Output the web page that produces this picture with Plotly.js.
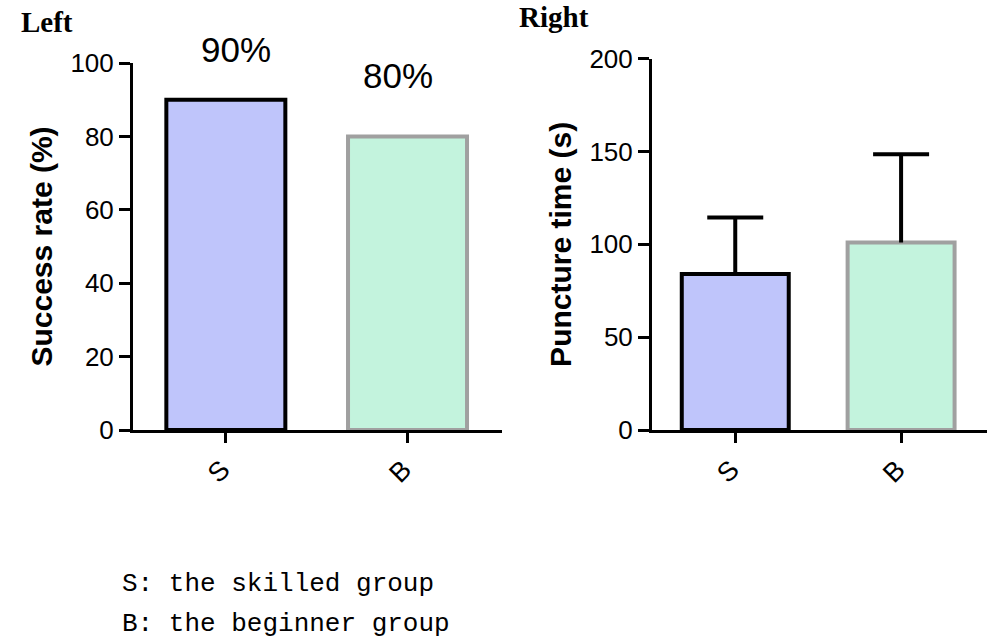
<!DOCTYPE html>
<html>
<head>
<meta charset="utf-8">
<script src="https://cdn.plot.ly/plotly-3.0.1.min.js"></script>
<style>html,body{margin:0;padding:0;background:#fff;}#chart{width:1000px;height:643px;}</style>
</head>
<body>
<div id="chart"></div>
<script>
// Data
var groups = ["S", "B"];
var successRate = [90, 80];
var successLabels = ["90%", "80%"];
var punctureMean = [84, 101];
var punctureSD = [30.5, 47.5];
var noSD = [0, 0];
var fillColors = ["#BFC5FB", "#C3F3DD"];
var edgeColors = ["#000000", "#A0A0A0"];
var legendLines = ["S: the skilled group", "B: the beginner group"];

var tickFont = {family: "Liberation Sans, Arial, sans-serif", size: 26, color: "#000"};
var xTickFont = {family: "Liberation Sans, Arial, sans-serif", size: 27, color: "#000"};
var titleFont = {family: "Liberation Sans, Arial, sans-serif", size: 30, color: "#000", weight: "bold"};

var errTop = punctureMean.map(function (m, i) { return m + punctureSD[i]; });

var traces = [
  {
    type: "bar", x: groups, y: successRate, xaxis: "x", yaxis: "y",
    width: 0.655,
    marker: {color: fillColors, line: {color: edgeColors, width: 4}},
    hoverinfo: "none"
  },
  {
    type: "bar", x: groups, y: punctureMean, xaxis: "x2", yaxis: "y2",
    width: 0.645,
    marker: {color: fillColors, line: {color: edgeColors, width: 4}},
    error_y: {type: "data", symmetric: false, array: punctureSD, arrayminus: noSD,
              color: "#000", thickness: 4, width: 0},
    hoverinfo: "none"
  },
  {
    // caps of the error bars (top only)
    type: "scatter", mode: "markers", x: groups, y: errTop, xaxis: "x2", yaxis: "y2",
    marker: {opacity: 0, size: 1},
    error_y: {type: "data", symmetric: true, array: noSD, color: "#000", thickness: 4, width: 28},
    hoverinfo: "none"
  }
];

var H = 643, W = 1000;
function py(p) { return (H - p) / H; }

var labelShift = [29, 39];
var labelXShift = [10, -10];
var annotations = [];
successLabels.forEach(function (t, i) {
  annotations.push({
    xref: "x", yref: "y", x: groups[i], y: successRate[i], text: t,
    showarrow: false, yanchor: "bottom", yshift: labelShift[i], xshift: labelXShift[i],
    font: {family: "Liberation Sans, Arial, sans-serif", size: 35, color: "#000"}
  });
});
annotations.push({xref: "paper", yref: "paper", x: 19 / W, y: py(4), xanchor: "left", yanchor: "top",
  text: "<b>Left</b>", showarrow: false,
  font: {family: "Liberation Serif, Times New Roman, serif", size: 29, color: "#000"}});
annotations.push({xref: "paper", yref: "paper", x: 517 / W, y: py(-1), xanchor: "left", yanchor: "top",
  text: "<b>Right</b>", showarrow: false,
  font: {family: "Liberation Serif, Times New Roman, serif", size: 29, color: "#000"}});
legendLines.forEach(function (t, i) {
  annotations.push({xref: "paper", yref: "paper", x: 120 / W, y: py(584 + i * 40), xanchor: "left", yanchor: "middle",
    text: t, showarrow: false,
    font: {family: "Liberation Mono, Courier New, monospace", size: 26, color: "#000"}});
});

function xAxis(domain, range, anchor) {
  return {
    domain: domain, range: range, type: "category", anchor: anchor,
    showline: true, linecolor: "#000", linewidth: 3,
    ticks: "outside", ticklen: 10, tickwidth: 3, tickcolor: "#000",
    tickangle: -45, tickfont: xTickFont, ticklabelshift: -4,
    showgrid: false, zeroline: false, fixedrange: true
  };
}
function yAxis(domain, range, anchor, vals, title) {
  return {
    domain: domain, range: range, anchor: anchor, tickvals: vals,
    showline: true, linecolor: "#000", linewidth: 3,
    ticks: "outside", ticklen: 11, tickwidth: 3, tickcolor: "#000",
    tickfont: tickFont, showgrid: false, zeroline: false,
    title: {text: title, font: titleFont, standoff: 9},
    fixedrange: true
  };
}

var layout = {
  width: W, height: H,
  margin: {l: 0, r: 0, t: 0, b: 0},
  paper_bgcolor: "#fff", plot_bgcolor: "#fff",
  showlegend: false,
  xaxis: xAxis([133 / W, 502 / W], [-0.511, 1.52], "y"),
  yaxis: yAxis([py(430), py(63)], [0, 100], "x", [0, 20, 40, 60, 80, 100], "Success rate (%)"),
  xaxis2: xAxis([652 / W, 987 / W], [-0.502, 1.518], "y2"),
  yaxis2: yAxis([py(430), py(58.7)], [0, 200], "x2", [0, 50, 100, 150, 200], "Puncture time (s)"),
  annotations: annotations
};

Plotly.newPlot("chart", traces, layout, {displayModeBar: false, staticPlot: true});
</script>
</body>
</html>
